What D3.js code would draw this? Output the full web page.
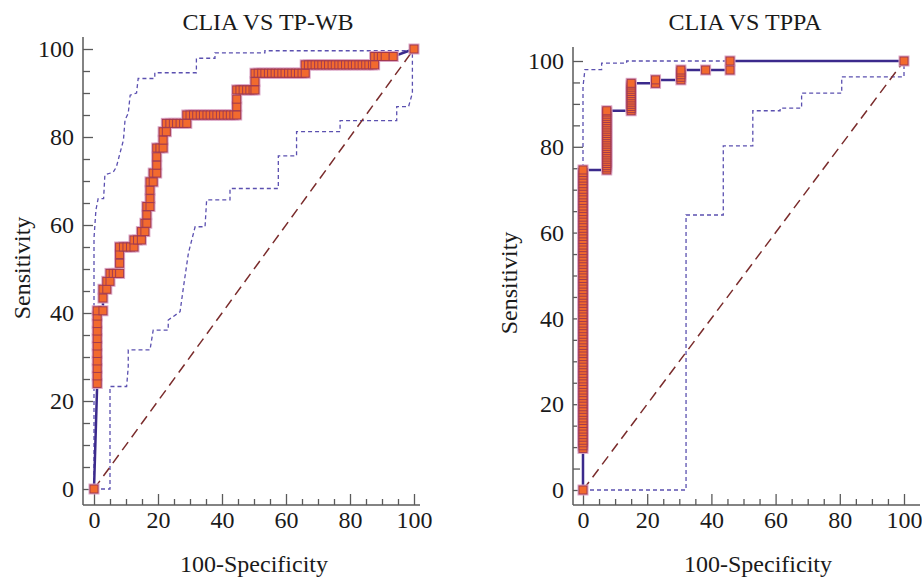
<!doctype html>
<html>
<head>
<meta charset="utf-8">
<style>
    body { margin: 0; background: #fff; }
    text { font-family: "Liberation Serif", "Times New Roman", serif; fill: #1a1a1a; }
</style>
<script src="https://cdn.jsdelivr.net/npm/d3@7"></script>
</head>
<body>
<svg id="chart" width="922" height="580"></svg>
<script>

    var titles = ["CLIA VS TP-WB", "CLIA VS TPPA"];
    var xLabel = "100-Specificity",
        yLabel = "Sensitivity";
    var majorTicks = [0, 20, 40, 60, 80, 100];
    var minorTicks = [5, 10, 15, 25, 30, 35, 45, 50, 55, 65, 70, 75, 85, 90, 95];

    // ROC points [100-specificity, sensitivity]
    var tpwbRoc = [
        [0,0],
        [1,24],[1,25.7],[1,27.4],[1,29.1],[1,30.8],[1,32.5],[1,34.2],[1,35.9],[1,37.6],[1,39.3],[1,40.5],
        [2.8,40.5],[2.8,43.4],[2.8,45.4],
        [4,45.4],[4,47.2],
        [5,47.2],[5,49],[6,49],[7,49],[8,49],
        [8,51.3],[8,53.3],[8,55],
        [9.2,55],[10.3,55],[11.4,55],[12.5,55],
        [12.5,56.6],[13.6,56.6],[14.8,56.6],
        [14.8,58.5],[15.9,58.5],[15.9,60.4],[16.5,60.4],[16.5,62.3],[16.5,64.2],
        [17.5,64.2],[17.5,66],[17.5,67.9],[17.5,69.8],
        [18.5,69.8],[18.5,71.8],
        [19.6,71.8],[19.6,73.6],[19.6,75.5],[19.6,77.5],
        [20.6,77.5],[21.6,77.5],[21.6,79.3],[21.6,81.2],
        [22.6,81.2],[22.6,83.1],[23.7,83.1],[24.8,83.1],[25.8,83.1],[26.9,83.1],[28,83.1],[29,83.1],
        [29,85],[30,85],[31.1,85],[32.1,85],[33.2,85],[34.2,85],[35.3,85],[36.3,85],[37.4,85],
        [38.4,85],[39.5,85],[40.5,85],[41.6,85],[42.6,85],[43.7,85],[44.6,85],
        [44.6,86.9],[44.6,88.6],[44.6,90.7],
        [45.6,90.7],[46.6,90.7],[47.7,90.7],[48.7,90.7],[49.7,90.7],[50.3,90.7],
        [50.3,92.6],[50.3,94.5],
        [51.3,94.5],[52.4,94.5],[53.4,94.5],[54.5,94.5],[55.5,94.5],[56.6,94.5],[57.6,94.5],[58.7,94.5],
        [59.7,94.5],[60.8,94.5],[61.8,94.5],[62.9,94.5],[63.9,94.5],[65,94.5],[66,94.5],
        [66,96.4],[67,96.4],[68.1,96.4],[69.1,96.4],[70.2,96.4],[71.2,96.4],[72.3,96.4],[73.3,96.4],
        [74.4,96.4],[75.4,96.4],[76.5,96.4],[77.5,96.4],[78.6,96.4],[79.6,96.4],[80.7,96.4],[81.7,96.4],
        [82.8,96.4],[83.8,96.4],[84.9,96.4],[85.9,96.4],[87,96.4],[87.7,96.4],
        [87.7,98.3],[88.8,98.3],[89.8,98.3],[91,98.3],[93.5,98.3],
        [100,100]
    ];
    var tpwbUpper = [
        [0,0],[0,57],[0.6,63.4],[1.3,66],[3,66],[3.4,71.4],[6,72],[7,73.2],[8,76],[9.2,79.3],
        [9.7,83.9],[10.7,85.4],[11.3,89.5],[13.3,90],[13.8,93.3],[19,93.3],[19,94.6],[32,94.6],
        [32,97.9],[37.8,97.9],[37.8,99.1],[53.4,99.1],[53.4,99.6],[100,99.6],[100,100]
    ];
    var tpwbLower = [
        [0,0],[5,0],[5,23.3],[10.2,23.3],[10.7,27.8],[10.7,31.6],[17.5,31.6],[18.5,36.1],[23.2,36.1],
        [23.2,38.4],[26.9,40.3],[27.9,45.6],[29.5,53.6],[31.6,59.6],[34.7,59.6],[35.2,65.7],[42.5,65.7],
        [42.5,68.3],[57.6,68.3],[57.6,75.7],[63.3,75.7],[63.3,81.2],[76.9,81.2],[76.9,83.7],[94.6,83.7],
        [94.6,86.9],[98.3,86.9],[99.5,90],[99.5,99.6],[100,100]
    ];

    var tppaRoc = [
        [0,0],
        [0,9.7],[0,10.3],[0,11],[0,11.6],[0,12.3],[0,12.9],[0,13.6],[0,14.2],[0,14.9],[0,15.5],
        [0,16.2],[0,16.8],[0,17.5],[0,18.1],[0,18.8],[0,19.4],[0,20.1],[0,20.7],[0,21.4],[0,22],
        [0,22.7],[0,23.3],[0,24],[0,24.6],[0,25.3],[0,25.9],[0,26.6],[0,27.2],[0,27.9],[0,28.5],
        [0,29.2],[0,29.8],[0,30.5],[0,31.1],[0,31.8],[0,32.4],[0,33.1],[0,33.7],[0,34.4],[0,35],
        [0,35.7],[0,36.3],[0,37],[0,37.6],[0,38.3],[0,38.9],[0,39.6],[0,40.2],[0,40.9],[0,41.5],
        [0,42.2],[0,42.8],[0,43.5],[0,44.1],[0,44.8],[0,45.4],[0,46.1],[0,46.7],[0,47.4],[0,48],
        [0,48.7],[0,49.3],[0,50],[0,50.6],[0,51.3],[0,51.9],[0,52.6],[0,53.2],[0,53.9],[0,54.5],
        [0,55.2],[0,55.8],[0,56.5],[0,57.1],[0,57.8],[0,58.4],[0,59.1],[0,59.7],[0,60.4],[0,61],
        [0,61.7],[0,62.3],[0,63],[0,63.6],[0,64.3],[0,64.9],[0,65.6],[0,66.2],[0,66.9],[0,67.5],
        [0,68.2],[0,68.8],[0,69.5],[0,70.1],[0,70.8],[0,71.4],[0,72.1],[0,72.7],[0,73.4],[0,74],[0,74.6],
        [7.4,74.6],[7.4,75.1],[7.4,75.6],[7.4,76.1],[7.4,76.6],[7.4,77.1],[7.4,77.6],[7.4,78.1],
        [7.4,78.6],[7.4,79.1],[7.4,79.6],[7.4,80.1],[7.4,80.6],[7.4,81.1],[7.4,81.6],[7.4,82.1],
        [7.4,82.6],[7.4,83.1],[7.4,83.6],[7.4,84.1],[7.4,84.6],[7.4,85.1],[7.4,85.6],[7.4,86.1],
        [7.4,86.6],[7.4,87.1],[7.4,87.6],[7.4,88.1],[7.4,88.4],
        [15,88.4],[15,88.9],[15,89.4],[15,89.9],[15,90.4],[15,90.9],[15,91.4],[15,91.9],[15,92.4],
        [15,92.9],[15,93.4],[15,93.9],[15,94.4],[15,94.8],
        [22.6,94.8],[22.6,95.6],
        [30.5,95.6],[30.5,96.2],[30.5,96.8],[30.5,97.4],[30.5,97.9],
        [38.2,97.9],
        [45.8,97.9],[45.8,100],
        [100,100]
    ];
    var tppaUpper = [
        [0,0],[0,94],[0.6,98],[5.8,98],[5.8,99.5],[13.6,99.5],[13.6,100],[100,100]
    ];
    var tppaLower = [
        [0,0],[32.1,0],[32.1,64.1],[43.7,64.1],[43.7,80.2],[52.9,80.2],[52.9,88.4],[61.4,88.4],
        [61.4,89],[68.1,89],[68.1,92.5],[80.6,92.5],[80.6,96.3],[100,96.3],[100,100]
    ];
    var diagonal = [[0,0],[100,100]];

    var svg = d3.select("#chart");

    var panels = [
        { title: titles[0], roc: tpwbRoc, upper: tpwbUpper, lower: tpwbLower,
          axisX: 83, axisY: 505, xr: [94, 414], yr: [489, 49], top: 37, right: 420,
          titleX: 268, xLabelX: 254, yLabelX: 22, yLabelY: 268 },
        { title: titles[1], roc: tppaRoc, upper: tppaUpper, lower: tppaLower,
          axisX: 573, axisY: 505, xr: [583, 904], yr: [490, 61], top: 47, right: 920,
          titleX: 745, xLabelX: 758, yLabelX: 509, yLabelY: 283 }
    ];

    var fontSize = 24;

    panels.forEach(function(p) {
        var x = d3.scaleLinear().domain([0, 100]).range(p.xr),
            y = d3.scaleLinear().domain([0, 100]).range(p.yr);
        var g = svg.append("g");

        // axes lines
        g.append("line")
         .attr("x1", p.axisX).attr("x2", p.axisX)
         .attr("y1", p.top).attr("y2", p.axisY)
         .attr("stroke", "#5a5a5a").attr("stroke-width", 1.5);
        g.append("line")
         .attr("x1", p.axisX).attr("x2", p.right)
         .attr("y1", p.axisY).attr("y2", p.axisY)
         .attr("stroke", "#5a5a5a").attr("stroke-width", 1.5);

        var xMajor = g.append("g")
         .attr("transform", "translate(0," + p.axisY + ")")
         .call(d3.axisBottom(x).tickValues(majorTicks).tickSize(-11).tickPadding(6));
        var xMinor = g.append("g")
         .attr("transform", "translate(0," + p.axisY + ")")
         .call(d3.axisBottom(x).tickValues(minorTicks).tickSize(-6).tickFormat(""));
        var yMajor = g.append("g")
         .attr("transform", "translate(" + p.axisX + ",0)")
         .call(d3.axisLeft(y).tickValues(majorTicks).tickSize(-10).tickPadding(9));
        var yMinor = g.append("g")
         .attr("transform", "translate(" + p.axisX + ",0)")
         .call(d3.axisLeft(y).tickValues(minorTicks).tickSize(-7).tickFormat(""));

        [xMajor, xMinor, yMajor, yMinor].forEach(function(a) {
            a.select(".domain").remove();
            a.selectAll(".tick line").attr("stroke", "#5a5a5a").attr("stroke-width", 1.3);
            a.selectAll(".tick text")
             .attr("font-family", "Liberation Serif, serif")
             .attr("font-size", fontSize)
             .attr("fill", "#1a1a1a");
        });

        // titles
        g.append("text")
         .attr("x", p.titleX).attr("y", 30)
         .attr("text-anchor", "middle")
         .attr("font-size", fontSize)
         .text(p.title);
        g.append("text")
         .attr("x", p.xLabelX).attr("y", 572)
         .attr("text-anchor", "middle")
         .attr("font-size", fontSize)
         .text(xLabel);
        g.append("text")
         .attr("transform", "translate(" + (p.yLabelX + 8) + "," + p.yLabelY + ") rotate(-90)")
         .attr("text-anchor", "middle")
         .attr("font-size", fontSize)
         .text(yLabel);

        var line = d3.line()
            .x(function(d) { return x(d[0]); })
            .y(function(d) { return y(d[1]); });

        // confidence bands
        [p.upper, p.lower].forEach(function(band) {
            g.append("path")
             .datum(band)
             .attr("d", line)
             .attr("fill", "none")
             .attr("stroke", "#5b50b0")
             .attr("stroke-width", 1.3)
             .attr("stroke-dasharray", "4,3");
        });

        // reference diagonal
        g.append("path")
         .datum(diagonal)
         .attr("d", line)
         .attr("fill", "none")
         .attr("stroke", "#7a2c2c")
         .attr("stroke-width", 1.5)
         .attr("stroke-dasharray", "10,6");

        // roc curve
        g.append("path")
         .datum(p.roc)
         .attr("d", line)
         .attr("fill", "none")
         .attr("stroke", "#3b2a8c")
         .attr("stroke-width", 2.5);

        g.selectAll(".halo")
         .data(p.roc)
         .enter().append("rect")
         .attr("class", "halo")
         .attr("x", function(d) { return x(d[0]) - 5.5; })
         .attr("y", function(d) { return y(d[1]) - 5.5; })
         .attr("width", 11).attr("height", 11)
         .attr("fill", "#dca6c6");

        g.selectAll(".point")
         .data(p.roc)
         .enter().append("rect")
         .attr("class", "point")
         .attr("x", function(d) { return x(d[0]) - 4; })
         .attr("y", function(d) { return y(d[1]) - 4; })
         .attr("width", 8).attr("height", 8)
         .attr("fill", "#f26a2e")
         .attr("stroke", "#a23a50")
         .attr("stroke-width", 1);
    });
</script>
</body>
</html>
